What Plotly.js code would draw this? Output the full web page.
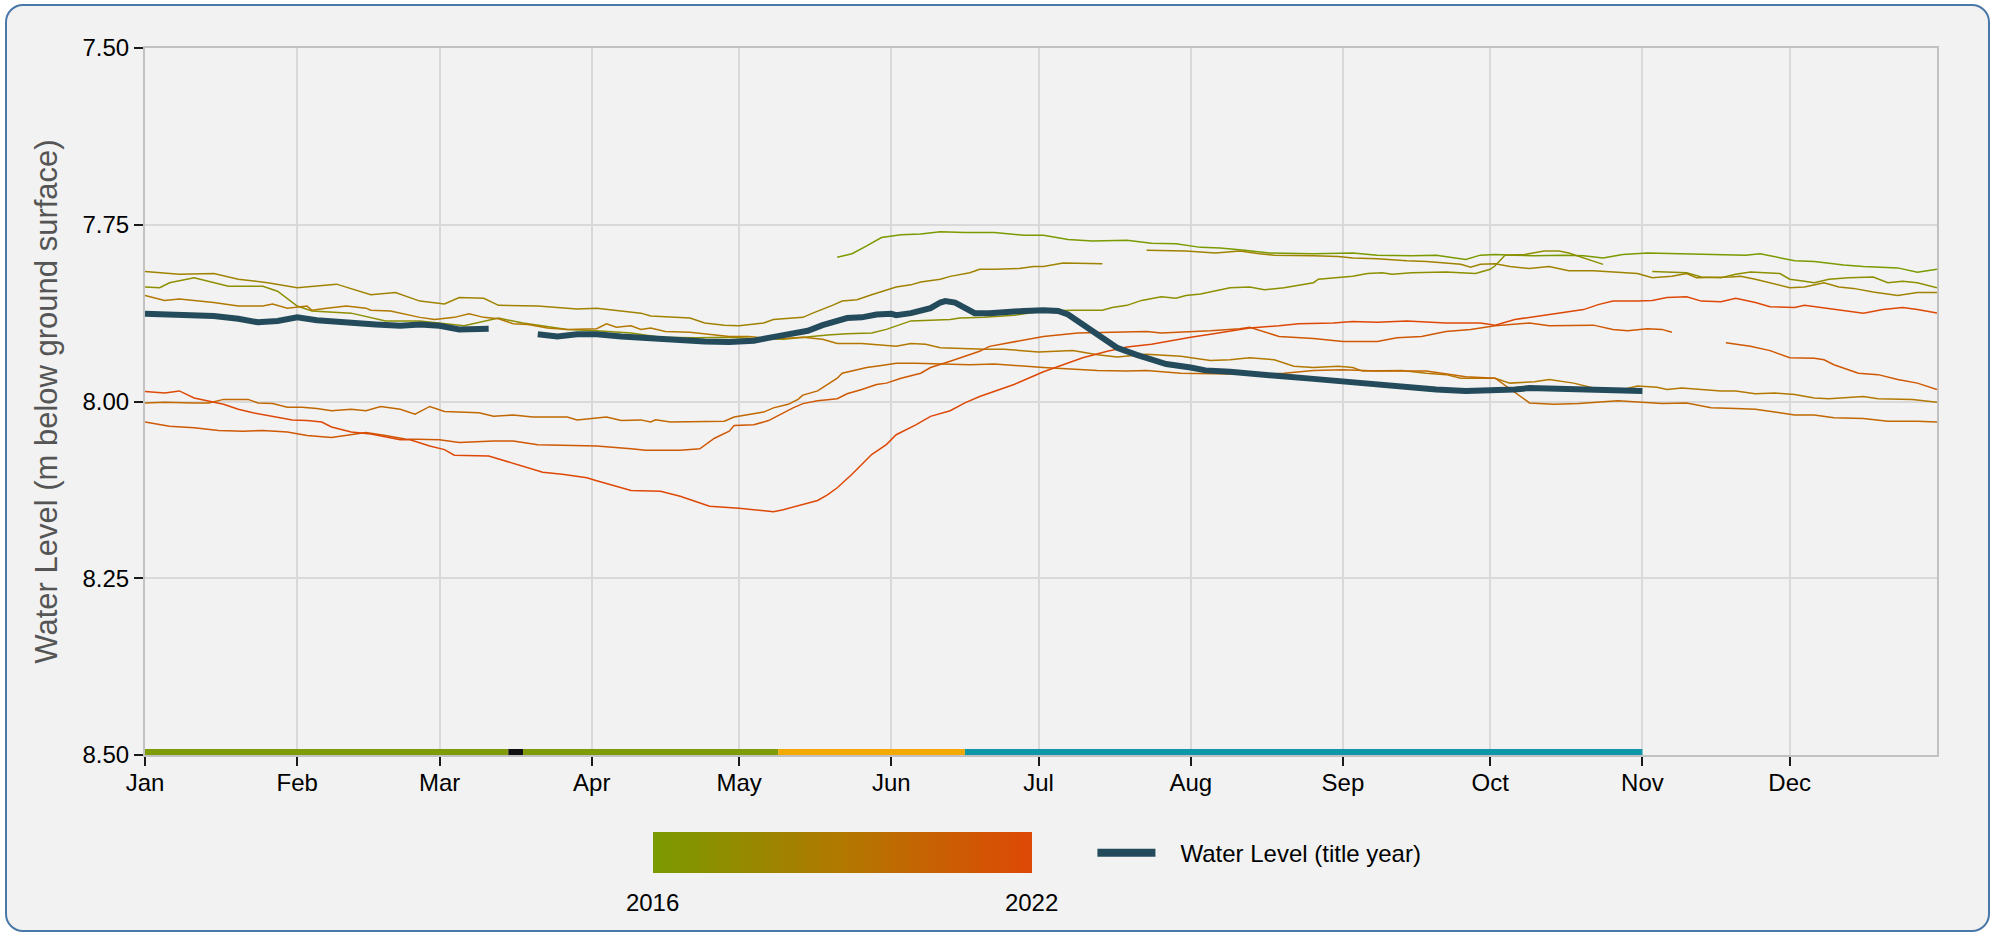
<!DOCTYPE html>
<html><head><meta charset="utf-8">
<script src="https://cdn.plot.ly/plotly-3.0.1.min.js"></script>
<style>
html,body{margin:0;padding:0;background:#ffffff;width:1999px;height:938px;overflow:hidden;}
#frame{position:absolute;left:5px;top:4px;width:1981px;height:924px;border:2px solid #4a78a8;border-radius:18px;background:#f2f2f2;}
#chart{position:absolute;left:0;top:0;width:1999px;height:938px;}
</style></head><body>
<div id="frame"></div><div id="chart"></div>
<script>
// ---------------- DATA ----------------
const titleYear = '2024';
const yearList = [2016, 2017, 2018, 2019, 2020, 2021, 2022];
const monthTickLabels = ['Jan','Feb','Mar','Apr','May','Jun','Jul','Aug','Sep','Oct','Nov','Dec'];
const levelTicks = [7.50, 7.75, 8.00, 8.25, 8.50];

const d2016 = ['05-21','05-24','05-27','05-30','06-03','06-07','06-11','06-16','06-22','06-28','07-02','07-07','07-12','07-19','07-24','07-29','08-03','08-07','08-12','08-17','08-26','09-03','09-08','09-15','09-20','09-26','09-29','10-02','10-06','10-10','10-16','10-20','10-24','10-28','11-02','11-08','11-15','11-22','11-25','11-29','12-02','12-06','12-12','12-16','12-23','12-27','12-31'];
const v2016 = [7.796,7.791,7.780,7.768,7.764,7.763,7.760,7.761,7.761,7.765,7.765,7.771,7.773,7.772,7.776,7.777,7.782,7.783,7.786,7.790,7.791,7.790,7.793,7.794,7.793,7.799,7.793,7.792,7.793,7.794,7.793,7.794,7.797,7.792,7.790,7.791,7.792,7.793,7.791,7.797,7.801,7.802,7.807,7.809,7.811,7.817,7.813];

const d2017 = ['01-01','01-04','01-06','01-11','01-18','01-25','01-28','02-01','02-04','02-12','02-19','02-26','03-06','03-13','03-18','03-27','04-02','04-09','04-15','04-22','04-29','05-04','05-10','05-14','05-19','05-23','05-28','05-31','06-02','06-05','06-09','06-13','06-15','06-20','06-26','06-29','07-02','07-08','07-14','07-16','07-19','07-22','07-26','07-29','07-31','08-03','08-06','08-09','08-13','08-16','08-20','08-23','08-26','08-27','08-31','09-03','09-06','09-09','09-11','09-15','09-22','09-28','10-01','10-02','10-04','10-08','10-12','10-15','10-17','10-21','10-24','10-28','11-03','11-10','11-13','11-17','11-20','11-23','11-29','12-01','12-04','12-06','12-09','12-13','12-18','12-21','12-24','12-27','12-31'];
const v2017 = [7.838,7.839,7.832,7.825,7.837,7.837,7.844,7.865,7.872,7.875,7.886,7.886,7.893,7.882,7.889,7.898,7.900,7.903,7.909,7.910,7.909,7.911,7.912,7.909,7.906,7.904,7.903,7.898,7.893,7.886,7.885,7.884,7.882,7.881,7.878,7.875,7.872,7.871,7.871,7.867,7.864,7.857,7.852,7.854,7.850,7.848,7.843,7.839,7.838,7.842,7.839,7.835,7.832,7.827,7.825,7.823,7.819,7.818,7.820,7.818,7.817,7.819,7.813,7.808,7.793,7.792,7.787,7.787,7.790,7.799,7.806,null,7.816,7.818,7.824,7.825,7.820,7.817,7.819,7.827,7.830,7.832,7.827,7.825,7.824,7.832,7.830,7.832,7.839];

const d2018 = ['01-01','01-08','01-15','01-20','01-26','02-01','02-09','02-16','02-21','02-26','03-02','03-05','03-10','03-13','03-21','03-29','04-02','04-06','04-11','04-13','04-17','04-21','04-24','04-28','05-01','05-06','05-08','05-11','05-14','05-16','05-18','05-20','05-22','05-25','05-28','05-30','06-02','06-05','06-07','06-11','06-13','06-17','06-19','06-22','06-27','06-30','07-02','07-06','07-09','07-12','07-14','07-18','07-23','07-31','08-06','08-11','08-15','08-18','08-26','08-31','09-03','09-08','09-14','09-18','09-25','09-27','09-29','10-02','10-05','10-09','10-13','10-17','10-22','10-28','10-31','11-03','11-07','11-10','11-12','11-19','11-21','11-24','11-27','12-01','12-04','12-08','12-11','12-14','12-18','12-23','12-27','12-31'];
const v2018 = [7.816,7.820,7.819,7.827,7.832,7.839,7.834,7.849,7.846,7.858,7.862,7.853,7.854,7.864,7.865,7.869,7.868,7.871,7.875,7.879,7.881,7.882,7.889,7.892,7.893,7.889,7.884,7.882,7.881,7.875,7.870,7.864,7.858,7.856,7.849,7.845,7.838,7.835,7.831,7.827,7.823,7.818,7.813,7.813,7.812,7.809,7.809,7.804,7.804,7.805,7.805,null,7.786,7.787,7.790,7.787,7.791,7.793,7.794,7.795,7.797,7.798,7.801,7.802,7.806,7.810,7.806,7.805,7.809,7.812,7.809,7.815,7.815,7.818,7.819,7.825,7.823,7.819,7.825,7.824,7.823,7.827,7.832,7.839,7.838,7.832,7.838,7.840,7.845,7.850,7.846,7.846];

const d2019 = ['01-01','01-05','01-08','01-11','01-15','01-20','01-25','01-27','01-30','02-03','02-04','02-07','02-11','02-15','02-16','02-20','02-23','02-26','02-29','03-04','03-07','03-10','03-13','03-16','03-19','03-23','03-27','04-02','04-04','04-06','04-09','04-11','04-13','04-16','04-21','04-25','04-29','05-03','05-07','05-10','05-14','05-18','05-21','05-26','05-30','06-02','06-05','06-08','06-11','06-15','06-20','06-24','06-28','07-01','07-08','07-13','07-17','07-23','07-30','08-01','08-05','08-09','08-13','08-18','08-22','08-26','08-31','09-03','09-05','09-13','09-18','09-22','09-25','10-02','10-05','10-10','10-13','10-18','10-22','10-28','10-31','11-04','11-06','11-09','11-13','11-17','11-20','11-24','11-28','12-02','12-06','12-09','12-16','12-19','12-26','12-31'];
const v2019 = [7.850,7.857,7.855,7.857,7.860,7.865,7.865,7.862,7.868,7.865,7.871,7.868,7.865,7.868,7.871,7.872,7.877,7.881,7.884,7.881,7.876,7.881,7.883,7.890,7.891,7.896,7.898,7.897,7.890,7.895,7.893,7.898,7.896,7.901,7.902,7.905,7.908,7.908,7.911,7.911,7.909,7.912,7.918,7.918,7.920,7.922,7.918,7.919,7.924,7.925,7.926,7.926,7.928,7.930,7.928,7.934,7.937,7.933,7.936,7.938,7.942,7.941,7.938,7.941,7.950,7.952,7.950,7.952,7.957,7.956,7.960,7.962,7.967,7.967,7.974,7.972,7.969,7.974,7.981,7.983,7.978,7.980,7.983,7.981,7.983,7.985,7.985,7.989,7.988,7.990,7.995,7.996,7.993,7.996,7.997,8.001];

const d2020 = ['01-01','01-05','01-11','01-14','01-17','01-22','01-24','01-27','01-30','02-02','02-05','02-08','02-12','02-15','02-18','02-22','02-25','02-26','02-28','03-02','03-06','03-09','03-12','03-16','03-20','03-27','03-29','04-02','04-04','04-07','04-11','04-13','04-14','04-17','04-22','04-28','04-30','05-03','05-06','05-08','05-11','05-13','05-14','05-17','05-19','05-21','05-22','05-25','05-27','05-30','06-02','06-06','06-13','06-17','06-22','06-28','07-02','07-13','07-19','07-23','07-30','08-09','08-15','08-20','08-26','09-01','09-08','09-18','09-22','09-26','10-02','10-09','10-14','10-19','10-27','11-02','11-05','11-10','11-15','11-20','11-24','11-29','12-02','12-06','12-10','12-16','12-21','12-27','12-31'];
const v2020 = [8.002,8.001,8.002,8.002,7.997,7.997,8.002,8.003,8.008,8.008,8.010,8.013,8.011,8.013,8.007,8.011,8.018,8.014,8.007,8.014,8.015,8.016,8.021,8.019,8.022,8.022,8.026,8.023,8.022,8.027,8.026,8.029,8.026,8.029,8.029,8.028,8.022,8.019,8.015,8.009,8.004,7.997,7.991,7.985,7.976,7.967,7.960,7.955,7.952,7.949,7.946,7.946,7.947,7.948,7.947,7.950,7.952,7.956,7.957,7.956,7.960,7.961,7.962,7.960,7.956,7.955,7.957,7.957,7.961,7.965,7.967,8.002,8.004,8.003,7.999,8.001,8.003,8.002,8.009,8.010,8.011,8.016,8.019,8.019,8.023,8.024,8.028,8.028,8.029];

const d2021 = ['01-01','01-06','01-11','01-16','01-21','01-25','01-30','02-03','02-08','02-13','02-15','02-19','02-23','03-01','03-05','03-12','03-16','03-21','03-26','04-02','04-09','04-12','04-19','04-23','04-26','04-29','04-30','05-04','05-07','05-10','05-12','05-14','05-17','05-21','05-23','05-26','05-29','05-31','06-03','06-07','06-09','06-13','06-16','06-19','06-21','06-25','06-29','07-02','07-09','07-16','07-23','07-26','07-30','08-05','08-11','08-13','08-19','08-26','09-01','09-08','09-12','09-17','09-22','09-27','10-02','10-09','10-13','10-19','10-22','10-26','10-29','11-02','11-05','11-07','11-12','11-18','11-23','11-27','12-01','12-06','12-08','12-10','12-15','12-19','12-23','12-27','12-31'];
const v2021 = [8.029,8.035,8.037,8.041,8.042,8.041,8.043,8.048,8.051,8.046,8.044,8.048,8.053,8.054,8.058,8.056,8.056,8.061,8.062,8.063,8.067,8.069,8.069,8.067,8.052,8.042,8.034,8.033,8.027,8.016,8.009,8.003,7.999,7.996,7.989,7.983,7.976,7.974,7.967,7.960,7.952,7.943,7.936,7.929,7.922,7.917,7.912,7.908,7.903,7.902,7.901,7.903,7.902,7.900,7.897,7.895,7.908,7.911,7.915,7.915,7.910,7.908,7.901,7.898,7.893,7.889,7.893,7.893,7.892,7.898,7.900,7.897,7.898,7.902,null,7.917,7.922,7.928,7.938,7.939,7.941,7.948,7.960,7.962,7.969,7.974,7.983];

const d2022 = ['01-01','01-05','01-08','01-11','01-17','01-20','01-23','01-27','01-31','02-03','02-06','02-08','02-12','02-16','02-22','02-24','02-28','03-02','03-04','03-11','03-15','03-19','03-22','03-26','03-31','04-02','04-05','04-09','04-15','04-19','04-22','04-25','05-01','05-06','05-08','05-10','05-14','05-17','05-19','05-21','05-24','05-26','05-28','05-31','06-02','06-06','06-09','06-13','06-16','06-19','06-21','06-26','06-30','07-02','07-06','07-10','07-15','07-19','07-24','07-27','08-01','08-05','08-09','08-13','08-19','08-23','08-30','09-03','09-08','09-14','09-22','09-29','10-02','10-06','10-11','10-15','10-20','10-23','10-26','10-31','11-03','11-06','11-10','11-13','11-17','11-20','11-24','11-27','12-02','12-04','12-08','12-12','12-16','12-20','12-24','12-27','12-31'];
const v2022 = [7.986,7.988,7.985,7.995,8.004,8.011,8.016,8.021,8.026,8.027,8.029,8.036,8.043,8.046,8.054,8.054,8.063,8.068,8.076,8.077,8.085,8.094,8.100,8.103,8.108,8.112,8.118,8.126,8.127,8.134,8.141,8.148,8.151,8.155,8.156,8.153,8.146,8.140,8.132,8.122,8.103,8.089,8.075,8.061,8.047,8.033,8.021,8.013,8.002,7.993,7.988,7.976,7.964,7.958,7.948,7.938,7.929,7.923,7.919,7.915,7.909,7.905,7.901,7.896,7.893,7.890,7.889,7.887,7.888,7.886,7.889,7.889,7.892,7.884,7.879,7.875,7.870,7.863,7.858,7.858,7.857,7.853,7.852,7.858,7.859,7.854,7.860,7.866,7.867,7.864,7.868,7.872,7.875,7.870,7.867,7.870,7.875];

// title-year water level
const dTitle = ['01-01','01-08','01-15','01-20','01-24','01-28','02-01','02-05','02-11','02-17','02-22','02-26','03-01','03-05','03-11','03-15','03-21','03-25','03-29','04-02','04-07','04-14','04-19','04-24','04-29','05-04','05-07','05-10','05-12','05-15','05-18','05-21','05-23','05-26','05-29','06-01','06-02','06-05','06-07','06-09','06-11','06-12','06-14','06-16','06-18','06-21','06-24','06-28','07-02','07-05','07-07','07-09','07-12','07-15','07-17','07-21','07-24','07-27','08-01','08-04','08-09','08-13','08-19','08-26','08-31','09-03','09-08','09-12','09-15','09-20','09-26','10-02','10-06','10-09','10-14','10-18','10-22','10-26','11-01'];
const vTitle = [7.876,7.878,7.879,7.883,7.888,7.886,7.881,7.885,7.889,7.891,7.893,7.891,7.893,7.898,7.897,null,7.905,7.908,7.905,7.905,7.908,7.911,7.914,7.915,7.916,7.914,7.910,7.906,7.903,7.900,7.892,7.886,7.882,7.881,7.877,7.876,7.878,7.875,7.872,7.868,7.860,7.858,7.860,7.868,7.875,7.875,7.873,7.872,7.871,7.872,7.877,7.886,7.901,7.915,7.924,7.934,7.941,7.947,7.952,7.956,7.958,7.961,7.964,7.968,7.971,7.974,7.977,7.979,7.981,7.983,7.985,7.985,7.983,7.981,7.982,7.983,7.985,7.985,7.985];

// data-quality strip (title year)
const qualStart = ['01-01','03-15','03-18','05-09','06-16'];
const qualEnd   = ['03-15','03-18','05-09','06-16','11-01'];
const qualGrade = ['good','missing','good','fair','estimated'];
const qualLevel = 8.50;

// ---------------- STYLE ----------------
const yearScale = [[0,'#7a9a00'],[0.5,'#b27800'],[1,'#de4806']];
const gradeColor = {good:'#7f9b06', missing:'#111111', fair:'#f2aa00', estimated:'#0f97a8'};
const FONT = 'Liberation Sans, Arial, Helvetica, sans-serif';

function hexToRgb(h){h=h.replace('#','');return [parseInt(h.substr(0,2),16),parseInt(h.substr(2,2),16),parseInt(h.substr(4,2),16)];}
function scaleColor(t){
  for(let i=0;i<yearScale.length-1;i++){
    const [t0,c0]=yearScale[i],[t1,c1]=yearScale[i+1];
    if(t<=t1){const f=(t-t0)/(t1-t0);const a=hexToRgb(c0),b=hexToRgb(c1);
      return 'rgb('+a.map((x,k)=>Math.round(x+(b[k]-x)*f)).join(',')+')';}
  }
  return yearScale[yearScale.length-1][1];
}
const toDate = arr => arr.map(d => titleYear + '-' + d);

const yearData = {2016:[d2016,v2016],2017:[d2017,v2017],2018:[d2018,v2018],2019:[d2019,v2019],2020:[d2020,v2020],2021:[d2021,v2021],2022:[d2022,v2022]};
const yMin = yearList[0], yMax = yearList[yearList.length-1];

const traces = [];
yearList.forEach(yr => {
  const [d, v] = yearData[yr];
  traces.push({type:'scatter', mode:'lines', x:toDate(d), y:v, name:String(yr), showlegend:false,
    connectgaps:false, line:{color:scaleColor((yr-yMin)/(yMax-yMin)), width:1.5}, hoverinfo:'x+y+name'});
});
traces.push({type:'scatter', mode:'lines', x:toDate(dTitle), y:vTitle, name:'Water Level (title year)',
  showlegend:false, connectgaps:false, line:{color:'#244b5b', width:6}});
// legend entry for the title-year line (no points of its own)
traces.push({type:'scatter', mode:'lines', x:[null], y:[null], name:'\u00a0\u00a0\u00a0Water Level (title year)',
  showlegend:true, hoverinfo:'skip', line:{color:'#244b5b', width:8}});
qualStart.forEach((s,i) => {
  traces.push({type:'scatter', mode:'lines', x:toDate([s, qualEnd[i]]), y:[qualLevel, qualLevel],
    showlegend:false, hoverinfo:'skip', line:{color:gradeColor[qualGrade[i]], width:12}});
});
// colour bar for historic years
traces.push({type:'scatter', mode:'markers', x:toDate(['01-01','01-02']), y:[null,null], showlegend:false, hoverinfo:'skip',
  marker:{color:[yMin,yMax], cmin:yMin, cmax:yMax, colorscale:yearScale, showscale:true,
    colorbar:{orientation:'h', x:0.389, xanchor:'center', y:-0.109, yanchor:'top', len:379, lenmode:'pixels',
      thickness:41, thicknessmode:'pixels', xpad:0, ypad:0, outlinewidth:0,
      tickvals:[yMin,yMax], ticktext:[String(yMin),String(yMax)], ticks:'outside', ticklen:10, tickcolor:'rgba(0,0,0,0)',
      tickfont:{family:FONT, size:24, color:'#000'}}}});

const axisCommon = {showgrid:true, gridcolor:'#d9d9d9', gridwidth:2, showline:true, linecolor:'#c2c2c2', linewidth:2,
  mirror:true, ticks:'outside', ticklen:9, tickwidth:2, tickcolor:'#1a1a1a', zeroline:false,
  tickfont:{family:FONT, size:24, color:'#000'}};

const layout = {
  width:1999, height:938, margin:{l:145, r:62, t:48, b:183},
  paper_bgcolor:'rgba(0,0,0,0)', plot_bgcolor:'rgba(0,0,0,0)',
  font:{family:FONT, size:24, color:'#000'},
  xaxis:Object.assign({}, axisCommon, {type:'date', range:[titleYear+'-01-01', titleYear+'-12-31'],
    tickvals:monthTickLabels.map((m,i)=>titleYear+'-'+String(i+1).padStart(2,'0')+'-01'),
    ticktext:monthTickLabels, ticklabelstandoff:-4}),
  yaxis:Object.assign({}, axisCommon, {range:[levelTicks[levelTicks.length-1], levelTicks[0]],
    tickvals:levelTicks, ticktext:levelTicks.map(v=>v.toFixed(2)),
    title:{text:'Water Level (m below ground surface)', font:{family:FONT, size:31, color:'#555555'}, standoff:16}}),
  legend:{orientation:'h', x:0.5287, xanchor:'left', y:-0.139, yanchor:'middle', bgcolor:'rgba(0,0,0,0)',
    itemwidth:58, font:{family:FONT, size:24, color:'#000'}},
  showlegend:true
};

Plotly.newPlot('chart', traces, layout, {displayModeBar:false, staticPlot:true});
</script></body></html>
